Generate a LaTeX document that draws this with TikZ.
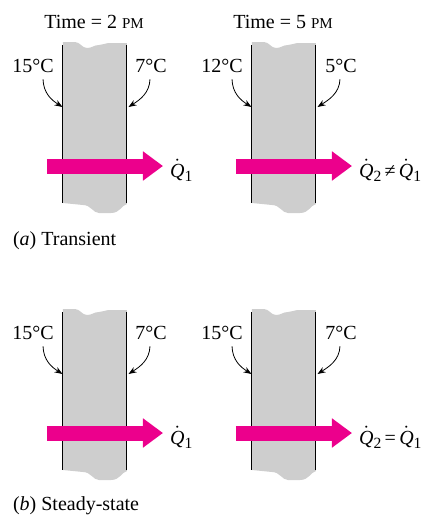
\documentclass[tikz,border=0pt]{standalone}
\usepackage{fontspec}
\setmainfont{Liberation Serif}
\usetikzlibrary{arrows.meta}
\definecolor{heatpink}{RGB}{236,0,140}
\definecolor{slabgray}{RGB}{206,206,206}
\newcommand{\pmfont}{\fontsize{7.5}{9}\selectfont}
\newcommand{\qrate}[1]{$\dot{\hbox{\itshape Q}}$\raisebox{-2.2pt}{\fontsize{7.8}{9}\selectfont #1}}

\begin{document}
\begin{tikzpicture}[
        x=0.5pt, y=-0.5pt,
        temp/.style={anchor=base},
        lbl/.style={anchor=base west},
        tarrow/.style={-{Stealth[length=4pt,width=3pt]},line width=0.4pt},
        heat/.style={-{Triangle[length=10pt,width=14pt]},heatpink,line width=7.5pt},
        slab/.pic={
            \fill[slabgray] (0,-3) -- (12,-3) .. controls (17,-3) and (19,3) .. (24,3)
                .. controls (29,3) and (31,0) .. (36,0) .. controls (40,0) and (42,-2) .. (47,-2)
                -- (64,-2) -- (64,159) .. controls (59,160) and (57,168) .. (48,168) -- (36,168)
                .. controls (30,168) and (28,160) .. (20,160) -- (0,158) -- cycle;
            \draw[line width=0.5pt] (0,0) -- (0,158) (64,0) -- (64,158);
        }
    ]
        \useasboundingbox (0,0) rectangle (427,516);

        % (a) transient, 2 PM
        \node[temp] (time1) at (94,28) {Time = 2 {\pmfont PM}};
        \pic at (63,45) {slab};
        \node[temp] (tl1) at (33,72) {15°C};
        \node[temp] (tr1) at (151,72) {7°C};
        \coordinate (w1l) at (62.5,107);
        \coordinate (w1r) at (128.5,107);
        \draw[tarrow] ([xshift=5pt]tl1.south) .. controls +(0.5,14) and +(-11,-7) .. (w1l);
        \draw[tarrow] ([xshift=-0.5pt]tr1.south) .. controls +(-0.5,14) and +(11,-7) .. (w1r);
        \node[lbl] (q1) at (163,177) {\qrate{1}};
        \coordinate (h1) at (47,166);
        \draw[heat] (h1) -- (h1 -| q1.west);

        % (a) transient, 5 PM
        \node[temp] (time2) at (283,28) {Time = 5 {\pmfont PM}};
        \pic at (252,45) {slab};
        \node[temp] (tl2) at (222,72) {12°C};
        \node[temp] (tr2) at (341,72) {5°C};
        \coordinate (w2l) at (251.5,107);
        \coordinate (w2r) at (317.5,107);
        \draw[tarrow] ([xshift=5pt]tl2.south) .. controls +(0.5,14) and +(-11,-7) .. (w2l);
        \draw[tarrow] ([xshift=-0.5pt]tr2.south) .. controls +(-0.5,14) and +(11,-7) .. (w2r);
        \node[lbl] (q2) at (352,177) {\qrate{2}\,≠\,\qrate{1}};
        \coordinate (h2) at (236,166);
        \draw[heat] (h2) -- (h2 -| q2.west);

        \node[lbl] (capa) at (6,245) {(\textit{a}) Transient};

        % (b) steady state
        \pic at (63,312) {slab};
        \node[temp] (tl3) at (33,339) {15°C};
        \node[temp] (tr3) at (151,339) {7°C};
        \coordinate (w3l) at (62.5,374);
        \coordinate (w3r) at (128.5,374);
        \draw[tarrow] ([xshift=5pt]tl3.south) .. controls +(0.5,14) and +(-11,-7) .. (w3l);
        \draw[tarrow] ([xshift=-0.5pt]tr3.south) .. controls +(-0.5,14) and +(11,-7) .. (w3r);
        \node[lbl] (q3) at (163,444) {\qrate{1}};
        \coordinate (h3) at (47,433);
        \draw[heat] (h3) -- (h3 -| q3.west);

        \pic at (252,312) {slab};
        \node[temp] (tl4) at (222,339) {15°C};
        \node[temp] (tr4) at (341,339) {7°C};
        \coordinate (w4l) at (251.5,374);
        \coordinate (w4r) at (317.5,374);
        \draw[tarrow] ([xshift=5pt]tl4.south) .. controls +(0.5,14) and +(-11,-7) .. (w4l);
        \draw[tarrow] ([xshift=-0.5pt]tr4.south) .. controls +(-0.5,14) and +(11,-7) .. (w4r);
        \node[lbl] (q4) at (352,444) {\qrate{2}\,=\,\qrate{1}};
        \coordinate (h4) at (236,433);
        \draw[heat] (h4) -- (h4 -| q4.west);

        \node[lbl] (capb) at (6,510) {(\textit{b}) Steady-state};
\end{tikzpicture}
\end{document}
